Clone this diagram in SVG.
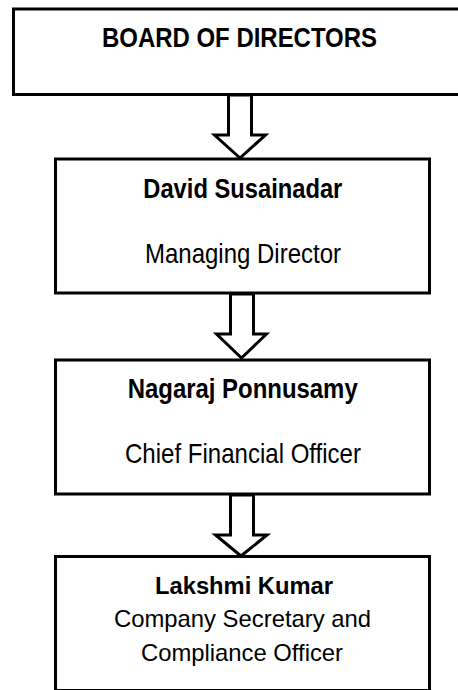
<svg xmlns="http://www.w3.org/2000/svg" width="458" height="690" viewBox="0 0 458 690">
<style>
.box{fill:#fff;stroke:#000;stroke-width:3}
.arr{fill:#fff;stroke:#000;stroke-width:3;stroke-linejoin:miter}
text{font-family:"Liberation Sans",Arial,sans-serif;fill:#000}
.b{font-weight:bold}
</style>
<rect width="458" height="690" fill="#fff"/>
<g id="board">
<rect class="box" x="13.5" y="9" width="480" height="85.5"/>
<text class="b" x="102" y="46.7" font-size="28" textLength="275" lengthAdjust="spacingAndGlyphs">BOARD OF DIRECTORS</text>
</g>
<g id="md">
<rect class="box" x="55.5" y="159" width="374" height="134"/>
<text class="b" x="143.3" y="197.5" font-size="28" textLength="199" lengthAdjust="spacingAndGlyphs">David Susainadar</text>
<text x="145" y="262.7" font-size="27.5" textLength="196" lengthAdjust="spacingAndGlyphs">Managing Director</text>
</g>
<g id="cfo">
<rect class="box" x="55.5" y="360" width="374" height="134"/>
<text class="b" x="127.7" y="398.3" font-size="28" textLength="230" lengthAdjust="spacingAndGlyphs">Nagaraj Ponnusamy</text>
<text x="125" y="463.3" font-size="28" textLength="236" lengthAdjust="spacingAndGlyphs">Chief Financial Officer</text>
</g>
<g id="cs">
<rect class="box" x="55.5" y="556.5" width="374" height="134"/>
<text class="b" x="155" y="594" font-size="23.5" textLength="178" lengthAdjust="spacingAndGlyphs">Lakshmi Kumar</text>
<text x="114" y="626.7" font-size="24" textLength="257" lengthAdjust="spacingAndGlyphs">Company Secretary and</text>
<text x="141" y="661" font-size="24" textLength="202" lengthAdjust="spacingAndGlyphs">Compliance Officer</text>
</g>
<g id="connectors">
<polygon class="arr" points="228.5,95 251.5,95 251.5,135 265.5,135 240,158 214.5,135 228.5,135"/>
<polygon class="arr" points="230.5,294 253.5,294 253.5,334 266.5,334 241.5,358 216.5,334 230.5,334"/>
<polygon class="arr" points="230.5,495 253.5,495 253.5,535 267,535 241,556 215.5,535 230.5,535"/>
</g>
</svg>
